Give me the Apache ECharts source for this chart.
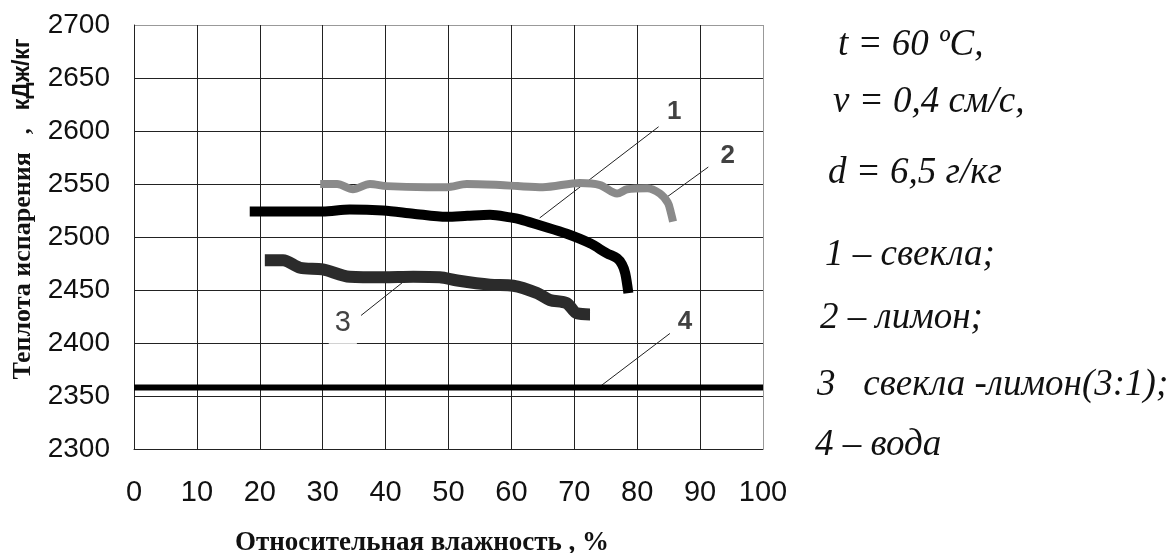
<!DOCTYPE html>
<html>
<head>
<meta charset="utf-8">
<script src="https://cdn.jsdelivr.net/npm/echarts@6/dist/echarts.min.js"></script>
<style>
  html, body { margin: 0; padding: 0; background: #fff; }
  #chart { width: 1172px; height: 553px; }
</style>
</head>
<body>
<div id="chart"></div>
<script>
// ---- data ----
const xTicks = [0, 10, 20, 30, 40, 50, 60, 70, 80, 90, 100];
const yTicks = [2300, 2350, 2400, 2450, 2500, 2550, 2600, 2650, 2700];

// 1 – свекла
const beet = [[18.4,2524],[22,2524],[26,2524],[30,2524],[34.3,2526],[39.6,2525],[44.4,2522],[49.7,2519],[53,2520],[56.6,2521],[59.8,2518.5],[61.4,2516.7],[64.5,2511],[68.8,2503],[72.5,2494],[75.2,2484.6],[76.8,2480],[77.6,2474],[78.1,2465.7],[78.6,2447]];
// 2 – лимон
const lemon = [[29.6,2550],[32.3,2550],[34.8,2545],[37.5,2550],[40.2,2548],[46.6,2547],[49.7,2547],[52.9,2550],[58.2,2549],[61,2548],[65,2547],[70.9,2551],[74.1,2549],[76.8,2541],[78.4,2545],[81.6,2546],[83.6,2541],[84.9,2532],[85.4,2522],[85.7,2514.5]];
// 3 – свекла-лимон (3:1)
const mix = [[20.8,2478],[23.7,2478],[26.4,2471],[30,2469.5],[34.3,2462.5],[39.6,2462],[44.4,2462.5],[48.6,2462],[51.4,2459],[56.6,2455],[60.3,2454],[64.1,2447],[66.1,2440.6],[68.8,2437.5],[70.4,2428],[72.5,2427]];
// 4 – вода
const water = [[0,2358],[100,2358]];

// callouts: label text, label position, leader line ends
const calloutText = ['1', '2', '3', '4'];
const calloutPos = [[85.9,2618],[94.4,2577],[33.2,2419],[87.6,2420]];
const leader1 = [[64.5,2518],[83.4,2604]];
const leader2 = [[84.1,2535],[91.3,2566]];
const leader3 = [[36.1,2426],[43.1,2459]];
const leader4 = [[74.1,2359],[85.2,2409]];

const conditions = ['t = 60 ºC,', 'v = 0,4 см/с,', 'd = 6,5 г/кг'];
const legendItems = ['1 – свекла;', '2 – лимон;', '3   свекла -лимон(3:1);', '4 – вода'];

// ---- chart ----
const chart = echarts.init(document.getElementById('chart'));
const leaderStyle = { color: '#222', width: 1 };
function leader(d) {
  return { type: 'line', data: d, symbol: 'none', lineStyle: leaderStyle, silent: true, z: 3 };
}
const labelSeries = {
  type: 'scatter', symbolSize: 0, z: 6,
  data: calloutPos.map((p, i) => ({
    value: p,
    label: i === 2 ? {
      show: true, position: 'inside', formatter: calloutText[i],
      fontFamily: 'Arial, "Liberation Sans"', fontSize: 29, color: '#111',
      backgroundColor: '#fff', padding: [8, 6, 12, 6]
    } : {
      show: true, position: 'inside', formatter: calloutText[i],
      fontFamily: 'Arial, "Liberation Sans"', fontSize: 26, fontWeight: 'bold', color: '#111'
    }
  }))
};

const condBase = [55, 112, 183];
const legBase = [265, 328, 395, 455];
const condLeft = [838, 833, 828];
const legLeft = [825, 820, 817, 815];
const italic = { fontFamily: '"Liberation Serif", "Times New Roman", serif', fontStyle: 'italic', fontSize: 37, fill: '#111' };
const graphics = [];
conditions.forEach((t, i) => graphics.push({ type: 'text', left: condLeft[i], top: condBase[i] - 28,
  style: Object.assign({ text: t }, italic) }));
legendItems.forEach((t, i) => graphics.push({ type: 'text', left: legLeft[i], top: legBase[i] - 28,
  style: Object.assign({ text: t }, italic) }));
graphics.push({
  type: 'text', x: 422, y: 543,
  style: { text: 'Относительная влажность , %', fontFamily: '"Liberation Serif", "Times New Roman", serif', fontWeight: 'bold', fontSize: 27, fill: '#111', textAlign: 'center', textVerticalAlign: 'middle' }
});
graphics.push({
  type: 'text', x: 23, y: 209, rotation: Math.PI / 2,
  style: {
    text: '{a|Теплота испарения}{b|   ,   }{c|кДж/кг}',
    textAlign: 'center', textVerticalAlign: 'middle',
    rich: {
      a: { fontFamily: '"Liberation Serif", "Times New Roman", serif', fontWeight: 'bold', fontSize: 26, fill: '#111' },
      b: { fontFamily: '"Liberation Serif", serif', fontWeight: 'bold', fontSize: 24, fill: '#111' },
      c: { fontFamily: 'Arial, "Liberation Sans"', fontWeight: 'bold', fontSize: 23, fill: '#111' }
    }
  }
});

chart.setOption({
  animation: false,
  backgroundColor: '#fff',
  grid: { left: 134, top: 25, right: 409, bottom: 104, show: false },
  xAxis: {
    type: 'value', min: xTicks[0], max: xTicks[xTicks.length - 1], interval: 10,
    axisLine: { show: true, onZero: false, lineStyle: { color: '#222', width: 1 } },
    axisTick: { show: false },
    axisLabel: { fontFamily: 'Arial, "Liberation Sans"', fontSize: 29, color: '#111', margin: 29, formatter: v => String(v) },
    splitLine: { show: true, lineStyle: { color: ['#222','#222','#222','#222','#222','#222','#222','#222','#222','#222','#999'], width: 1 } }
  },
  yAxis: {
    type: 'value', min: yTicks[0], max: yTicks[yTicks.length - 1], interval: 50,
    axisLine: { show: true, lineStyle: { color: '#222', width: 1 } },
    axisTick: { show: false },
    axisLabel: { fontFamily: 'Arial, "Liberation Sans"', fontSize: 28, color: '#111', margin: 24, padding: [6, 0, 0, 0], formatter: v => String(v) },
    splitLine: { show: true, lineStyle: { color: ['#222','#222','#222','#222','#222','#222','#222','#222','#999'], width: 1 } }
  },
  graphic: graphics,
  series: [
    { name: '4 – вода', type: 'line', data: water, symbol: 'none', lineStyle: { color: '#000', width: 6 }, z: 4 },
    { name: '2 – лимон', type: 'line', data: lemon, symbol: 'none', smooth: 0.3, lineStyle: { color: '#8a8a8a', width: 8 }, z: 4 },
    { name: '1 – свекла', type: 'line', data: beet, symbol: 'none', smooth: 0.3, lineStyle: { color: '#000', width: 10 }, z: 4 },
    { name: '3 – свекла-лимон', type: 'line', data: mix, symbol: 'none', smooth: 0.3, lineStyle: { color: '#2b2b2b', width: 12 }, z: 4 },
    leader(leader1), leader(leader2), leader(leader3), leader(leader4),
    labelSeries
  ]
});
</script>
</body>
</html>
